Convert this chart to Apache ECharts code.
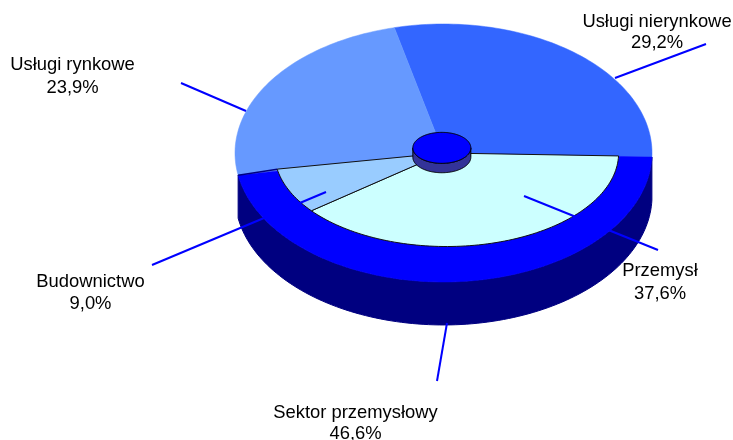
<!DOCTYPE html>
<html><head><meta charset="utf-8">
<style>html,body{margin:0;padding:0;background:#fff}#c{width:733px;height:440px}</style>
<script src="https://cdn.jsdelivr.net/npm/echarts@6/dist/echarts.min.js"></script>
</head><body><div id="c"></div>
<script>
const outerNames = ['Usługi nierynkowe', 'Usługi rynkowe', 'Sektor przemysłowy'];
const outerValues = [29.2, 23.9, 46.6];
const innerNames = ['Przemysł', 'Budownictwo'];
const innerValues = [37.6, 9.0];

const outerColors = ['#3366FF', '#6699FF', '#0000FF'];
const innerColors = ['#CCFFFF', '#99CCFF'];
const startAngle = -1.8;
const wallDepth = 0.333;
const innerSkew = 7.5;
const inner = { cx: 0.015, cy: 0, rx: 0.825, ry: 0.725 };
const hub = { cx: -0.008, cy: 0.04, rx: 0.139, ry: 0.12, depth: 0.073 };
const labelLayout = [
  { x: 657, y: 22, gap: 21.3, line: [615, 78, 706, 44] },
  { x: 72.5, y: 65.3, gap: 22.7, line: [246, 111, 181, 83] },
  { x: 355.5, y: 412.6, gap: 21.3, line: [447, 323, 437, 381] },
  { x: 660, y: 271, gap: 22.6, line: [524, 196, 658, 250] },
  { x: 90.5, y: 282, gap: 21.6, line: [326, 192, 152, 265] }
];

const total = a => a.reduce((s, v) => s + v, 0);
const rad = d => d * Math.PI / 180;
function arc(api, e, a0, a1, dy) {
  const pts = [];
  const n = Math.max(2, Math.ceil(Math.abs(a1 - a0) / 1.5));
  for (let i = 0; i <= n; i++) {
    const a = rad(a0 + (a1 - a0) * i / n);
    pts.push(api.coord([e.cx + e.rx * Math.cos(a), e.cy + e.ry * Math.sin(a) - (dy || 0)]));
  }
  return pts;
}
const unit = { cx: 0, cy: 0, rx: 1, ry: 1 };
const outerTotal = total(outerValues);
const outerSpans = [];
(function () {
  let a = startAngle;
  outerValues.forEach(v => { const s = v / outerTotal * 360; outerSpans.push([a, a + s]); a += s; });
})();
const innerSpans = [];
(function () {
  // the lower half of the reference is foreshortened, so inner slice borders bend slightly
  const sweep = total(innerValues) / outerTotal * 360;
  const warp = d => d + innerSkew * Math.sin(Math.PI * d / sweep);
  let d = 0;
  innerValues.forEach(v => {
    const s = v / outerTotal * 360;
    innerSpans.push([startAngle - warp(d), startAngle - warp(d + s)]);
    d += s;
  });
})();

const option = {
  animation: false,
  backgroundColor: '#fff',
  grid: { left: 235, width: 417, top: 24, height: 258 },
  xAxis: { type: 'value', min: -1, max: 1, show: false },
  yAxis: { type: 'value', min: -1, max: 1, show: false },
  series: [
    { // side wall of the lower half
      type: 'custom', silent: true, z: 1,
      data: [[outerValues[2]]],
      renderItem(params, api) {
        const a0 = outerSpans[2][0], a1 = outerSpans[2][1];
        const top = arc(api, unit, a0, a1, 0);
        const bot = arc(api, unit, a1, a0, wallDepth);
        return { type: 'polygon', shape: { points: top.concat(bot) }, style: { fill: '#000080', stroke: '#000080', lineWidth: 1 } };
      }
    },
    { // outer slices
      type: 'custom', silent: true, z: 2,
      data: outerValues.map(v => [v]),
      renderItem(params, api) {
        const s = outerSpans[params.dataIndex];
        const c = api.coord([0, 0]);
        const pts = [c].concat(arc(api, unit, s[0], s[1], 0));
        const col = outerColors[params.dataIndex];
        return { type: 'polygon', shape: { points: pts }, style: { fill: col, stroke: col, lineWidth: 0.5 } };
      }
    },
    { // thin dark seam on the left
      type: 'custom', silent: true, z: 3,
      data: [[outerValues[2]]],
      renderItem(params, api) {
        const a = outerSpans[2][0];
        const p = arc(api, unit, a, a + 0.01, 0)[0];
        const q = arc(api, inner, innerSpans[1][1], innerSpans[1][1] + 0.01, 0)[0];
        return { type: 'line', shape: { x1: p[0], y1: p[1], x2: q[0], y2: q[1] }, style: { stroke: '#000080', lineWidth: 1.5 } };
      }
    },
    { // inner slices
      type: 'custom', silent: true, z: 4,
      data: innerValues.map(v => [v]),
      renderItem(params, api) {
        const s = innerSpans[params.dataIndex];
        const pts = [api.coord([0, 0])].concat(arc(api, inner, s[0], s[1], 0));
        return { type: 'polygon', shape: { points: pts }, style: { fill: innerColors[params.dataIndex], stroke: '#111', lineWidth: 1 } };
      }
    },
    { // centre hub
      type: 'custom', silent: true, z: 5,
      data: [[0]],
      renderItem(params, api) {
        const side = arc(api, hub, 0, -180, 0).concat(arc(api, hub, -180, 0, hub.depth));
        const top = arc(api, hub, 0, 360, 0);
        return {
          type: 'group',
          children: [
            { type: 'polygon', shape: { points: side }, style: { fill: '#333399', stroke: '#000', lineWidth: 1 } },
            { type: 'polygon', shape: { points: top }, style: { fill: '#0000FF', stroke: '#000', lineWidth: 1 } }
          ]
        };
      }
    }
  ],
  graphic: (function () {
    const names = outerNames.concat(innerNames);
    const vals = outerValues.concat(innerValues);
    const fmt = v => v.toFixed(1).replace('.', ',') + '%';
    const out = [];
    names.forEach((n, i) => {
      const l = labelLayout[i];
      out.push({ type: 'line', z: 10, silent: true,
        shape: { x1: l.line[0], y1: l.line[1], x2: l.line[2], y2: l.line[3] },
        style: { stroke: '#0000FF', lineWidth: 2 } });
      [n, fmt(vals[i])].forEach((t, k) => out.push({
        type: 'text', z: 11, silent: true, x: l.x, y: l.y + k * l.gap,
        style: { text: t, fill: '#000', font: '18.4px "Liberation Sans", Arial, sans-serif', textAlign: 'center', textVerticalAlign: 'middle' }
      }));
    });
    return out;
  })()
};
echarts.init(document.getElementById('c'), null, { renderer: 'canvas' }).setOption(option);
</script></body></html>
